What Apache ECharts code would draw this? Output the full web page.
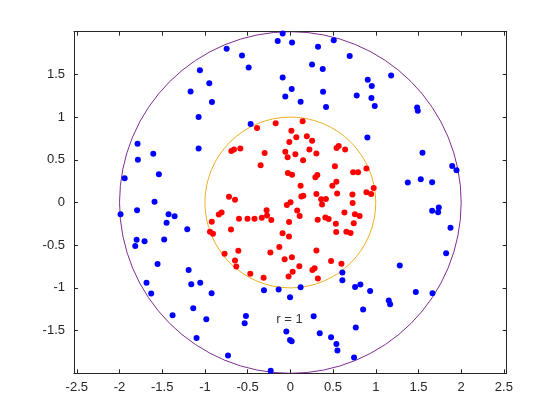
<!DOCTYPE html>
<html>
<head>
<meta charset="utf-8">
<script src="https://cdn.jsdelivr.net/npm/echarts@6/dist/echarts.min.js"></script>
<style>
  html, body { margin: 0; padding: 0; background: #fff; }
  #chart { width: 560px; height: 420px; }
</style>
</head>
<body>
<div id="chart"></div>
<script>
// points outside the unit circle (blue)
const outsidePts = [
  [-0.09, 1.98], [-0.148, 1.89], [0.02, 1.875], [-0.746, 1.80], [-0.566, 1.72],
  [-0.488, 1.58], [-1.059, 1.55], [-0.949, 1.395], [-1.168, 1.30], [-0.918, 1.176],
  [-0.09, 1.465], [0.016, 1.33], [-0.059, 1.24], [0.12, 1.18], [-1.074, 1.0],
  [-0.465, 0.918], [-1.074, 0.633], [-1.789, 0.6875], [-1.785, 0.50], [-1.605, 0.57],
  [-1.94, 0.285], [-1.539, 0.332], [-1.59, 0.01], [-1.795, -0.09],
  [0.508, 1.90], [0.324, 1.824], [0.695, 1.715], [0.254, 1.617], [0.379, 1.5625],
  [0.383, 1.297], [0.418, 1.117], [0.777, 1.254], [0.906, 1.4375], [0.953, 1.363],
  [0.949, 1.223], [0.988, 1.129], [1.18, 1.488], [1.484, 1.113], [1.492, 1.074],
  [0.902, 0.762], [1.547, 0.582], [1.895, 0.426], [1.945, 0.379], [1.375, 0.234],
  [1.527, 0.273], [1.66, 0.238],
  [-1.988, -0.137], [-1.426, -0.137], [-1.355, -0.16], [-1.449, -0.238], [-1.207, -0.3125],
  [-1.80, -0.4375], [-1.816, -0.508], [-1.707, -0.453], [-1.477, -0.434], [-1.555, -0.719],
  [-1.191, -0.789], [-1.684, -0.941], [-1.629, -1.066], [-1.16, -0.957], [-1.055, -0.941],
  [-0.922, -1.0625], [-1.137, -1.238], [-1.379, -1.32], [-0.984, -1.367], [-0.52, -1.328],
  [-0.535, -1.414], [-1.098, -1.586], [-0.730, -1.793], [-0.23, -1.969], [-0.309, -1.027],
  [-0.137, -1.02], [-0.004, -1.109], [0.12, -0.992], [-0.047, -1.512], [-0.004, -1.609],
  [0.016, -1.625],
  [1.66, -0.098], [1.738, -0.059], [1.73, -0.113], [1.875, -0.297], [1.824, -0.594],
  [1.281, -0.738], [0.609, -0.82], [0.609, -0.91], [0.758, -0.988], [0.82, -0.961],
  [0.934, -1.035], [1.469, -1.047], [1.664, -1.0625], [1.152, -1.148], [1.168, -1.191],
  [0.852, -1.254], [0.273, -1.332], [0.766, -1.465], [0.344, -1.531], [0.477, -1.578],
  [0.539, -1.656], [0.551, -1.734], [0.746, -1.816]
]

// points inside the unit circle (red)
const insidePts = [
  [-0.390, 0.873], [-0.172, 0.927], [0.012, 0.841], [-0.691, 0.604], [-0.660, 0.622],
  [-0.586, 0.631], [-0.301, 0.580], [-0.348, 0.437], [-0.059, 0.595], [-0.012, 0.709],
  [-0.032, 0.529], [-0.029, 0.346], [0.020, 0.326], [-0.718, 0.068], [-0.648, 0.033],
  [0.144, 0.950], [0.070, 0.763], [0.193, 0.775], [0.255, 0.722], [0.059, 0.564],
  [0.223, 0.622], [0.305, 0.575], [0.541, 0.639], [0.566, 0.663], [0.641, 0.622],
  [0.149, 0.496], [0.522, 0.425], [0.316, 0.322], [0.293, 0.297], [0.735, 0.355],
  [0.793, 0.355], [0.891, 0.398], [0.539, 0.244], [0.492, 0.197], [0.120, 0.195],
  [0.976, 0.170], [0.891, 0.121], [0.946, 0.100], [0.305, 0.100], [0.548, 0.105],
  [0.727, 0.095], [0.129, 0.070], [0.152, 0.080], [0.361, 0.039], [0.416, 0.042],
  [0.002, 0.004], [-0.041, -0.028], [0.729, -0.006],
  [-0.278, -0.090], [-0.838, -0.141], [-0.805, -0.117], [-0.601, -0.190], [-0.502, -0.190],
  [-0.420, -0.190], [-0.334, -0.178], [-0.273, -0.152], [-0.223, -0.205], [-0.920, -0.225],
  [-0.015, -0.227], [-0.941, -0.342], [-0.906, -0.366], [-0.695, -0.315], [-0.091, -0.360],
  [-0.016, -0.398], [-0.129, -0.521], [-0.609, -0.565], [-0.770, -0.600], [-0.234, -0.585],
  [-0.067, -0.664], [0.018, -0.641], [-0.648, -0.680], [-0.633, -0.749], [-0.469, -0.834],
  [-0.313, -0.881], [-0.021, -0.867], [0.027, -0.811],
  [0.371, -0.022], [0.080, -0.093], [0.109, -0.157], [0.320, -0.202], [0.410, -0.176],
  [0.449, -0.193], [0.633, -0.116], [0.756, -0.139], [0.811, -0.157], [0.533, -0.248],
  [0.742, -0.243], [0.537, -0.346], [0.656, -0.342], [0.705, -0.357], [0.305, -0.561],
  [0.105, -0.746], [0.477, -0.684], [0.598, -0.717], [0.258, -0.790], [0.284, -0.770],
  [0.322, -0.889]
]

const circleRadii = [1, 2]
const circleColors = ['#EDB120', '#7E2F8E']

const xTicks = [-2.5, -2, -1.5, -1, -0.5, 0, 0.5, 1, 1.5, 2, 2.5]
const yTicks = [-1.5, -1, -0.5, 0, 0.5, 1, 1.5]

const annotation = { x: -0.164, y: -1.368, text: 'r = 1' }

const axisColor = '#262626'
const font = 'Liberation Sans, Arial, Helvetica, sans-serif'

const chart = echarts.init(document.getElementById('chart'))

const boxAxis = (ticks, extra) => Object.assign({
  type: 'value',
  axisLine: { show: true, onZero: false, lineStyle: { color: axisColor, width: 1 } },
  axisTick: { show: true, inside: true, length: 4, customValues: ticks, lineStyle: { color: axisColor } },
  axisLabel: { show: false },
  splitLine: { show: false }
}, extra)

chart.setOption({
  animation: false,
  backgroundColor: '#fff',
  grid: { left: 74, right: 53.3, top: 31.7, bottom: 46.7 },
  xAxis: [
    boxAxis(xTicks, {
      position: 'bottom', min: -2.533, max: 2.533,
      axisLabel: { show: true, customValues: xTicks, margin: 8, color: axisColor, fontSize: 13, fontFamily: font }
    }),
    boxAxis(xTicks, { position: 'top', min: -2.533, max: 2.533 })
  ],
  yAxis: [
    boxAxis(yTicks, {
      position: 'left', min: -2, max: 2,
      axisLabel: { show: true, customValues: yTicks, margin: 9, color: axisColor, fontSize: 13, fontFamily: font }
    }),
    boxAxis(yTicks, { position: 'right', min: -2, max: 2 })
  ],
  series: [
    {
      type: 'custom',
      z: 1,
      data: circleRadii.map((r, i) => [r, i]),
      renderItem: (params, api) => {
        const c = api.coord([0, 0])
        const r = api.size([api.value(0), 0])[0]
        return {
          type: 'circle',
          shape: { cx: c[0], cy: c[1], r: r },
          style: { fill: 'none', stroke: circleColors[api.value(1)], lineWidth: 1 }
        }
      },
      clip: true
    },
    {
      type: 'scatter',
      z: 2,
      data: outsidePts,
      symbolSize: 6,
      itemStyle: { color: '#0000FF', opacity: 1 }
    },
    {
      type: 'scatter',
      z: 2,
      data: insidePts,
      symbolSize: 6,
      itemStyle: { color: '#FF0000', opacity: 1 }
    },
    {
      type: 'scatter',
      z: 3,
      data: [[annotation.x, annotation.y]],
      symbolSize: 0,
      silent: true,
      label: {
        show: true,
        position: 'right',
        distance: 0,
        formatter: annotation.text,
        color: '#000',
        fontSize: 13,
        fontFamily: font
      }
    }
  ]
})
</script>
</body>
</html>
